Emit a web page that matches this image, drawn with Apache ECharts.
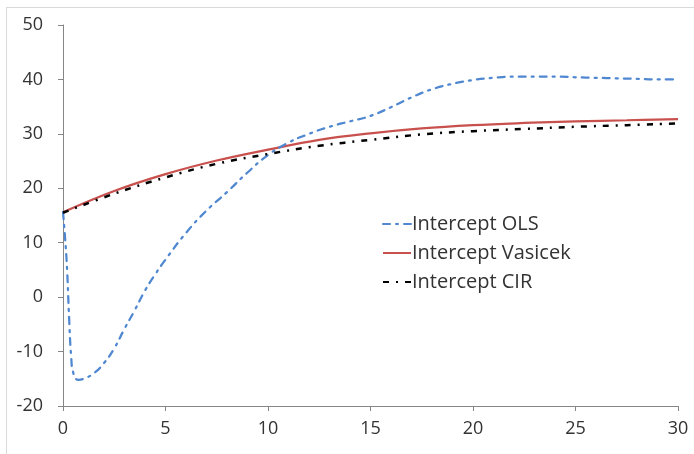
<!DOCTYPE html>
<html>
<head>
<meta charset="utf-8">
<script src="https://cdn.jsdelivr.net/npm/echarts@6/dist/echarts.min.js"></script>
<style>
  html, body { margin: 0; padding: 0; background: #ffffff; }
  #chart { position: absolute; left: 0; top: 0; width: 694px; height: 454px; }
  #frame { position: absolute; left: 6px; top: 7px; width: 700px; height: 460px;
           border: 1px solid #d9d9d9; pointer-events: none; box-sizing: border-box; }
</style>
</head>
<body>
<div id="chart"></div>
<div id="frame"></div>
<script>
// Maturity (years) and intercept estimates per model
const olsX = [0, 0.1, 0.2, 0.3, 0.4, 0.5, 0.75, 1, 1.5, 2, 2.5, 3, 3.5, 4, 4.5, 5, 6, 7, 8, 9, 10,
              11, 12, 13, 14, 15, 16, 17, 18, 19, 20, 21, 22, 23, 24, 25, 26, 27, 28, 29, 30];
const olsY = [15.6, 11, 5, -4, -11, -13.9, -15.2, -15.0, -14.0, -12.1, -9.4, -5.8, -2.4, 1.2, 4.2, 6.9,
              11.8, 15.9, 19.3, 22.9, 26.1, 28.4, 30.0, 31.3, 32.3, 33.3, 34.9, 36.7, 38.2, 39.2, 39.9,
              40.3, 40.5, 40.5, 40.5, 40.4, 40.3, 40.2, 40.1, 40.0, 40.0];

const modelX = [0, 2.5, 5, 7.5, 10, 12.5, 15, 17.5, 20, 22.5, 25, 27.5, 30];
const vasicekY = [15.6, 19.5, 22.6, 25.1, 27.1, 28.9, 30.1, 31.0, 31.6, 32.0, 32.3, 32.5, 32.7];
const cirY = [15.5, 19.0, 22.0, 24.5, 26.3, 27.8, 28.9, 29.9, 30.5, 30.9, 31.3, 31.6, 31.9];

const seriesNames = ['Intercept OLS', 'Intercept Vasicek', 'Intercept CIR'];

const pairs = (xs, ys) => xs.map((x, i) => [x, ys[i]]);

const FONT = 'Open Sans';
const TEXT = '#333333';
const AXIS = '#868686';

const chart = echarts.init(document.getElementById('chart'), null, { renderer: 'canvas' });

chart.setOption({
  animation: false,
  backgroundColor: '#ffffff',
  grid: { left: 63, right: 16, top: 25, bottom: 48, containLabel: false },
  legend: {
    orient: 'vertical',
    left: 377,
    top: 209,
    itemWidth: 28,
    itemHeight: 14,
    itemGap: 9,
    itemStyle: { opacity: 0 },
    textStyle: { fontFamily: FONT, fontSize: 20, lineHeight: 20, color: TEXT, padding: [0, 0, 0, -4] },
    data: seriesNames
  },
  xAxis: {
    type: 'value',
    min: 0, max: 30, interval: 5,
    axisLine: { show: true, onZero: false, lineStyle: { color: AXIS, width: 1 } },
    axisTick: { show: true, length: 5, lineStyle: { color: AXIS } },
    axisLabel: { margin: 14, fontFamily: FONT, fontSize: 18, color: TEXT },
    splitLine: { show: false }
  },
  yAxis: {
    type: 'value',
    min: -20, max: 50, interval: 10,
    axisLine: { show: true, onZero: false, lineStyle: { color: AXIS, width: 1 } },
    axisTick: { show: true, length: 5, lineStyle: { color: AXIS } },
    axisLabel: { margin: 20, fontFamily: FONT, fontSize: 18, color: TEXT },
    splitLine: { show: false }
  },
  series: [
    {
      name: seriesNames[0], type: 'line', symbol: 'none', smooth: 0.5,
      data: pairs(olsX, olsY),
      lineStyle: { color: '#4f87d0', width: 2.25, type: [7, 6, 2, 6], cap: 'round' },
      itemStyle: { color: '#4f87d0' }, z: 3
    },
    {
      name: seriesNames[1], type: 'line', symbol: 'none', smooth: 0.4,
      data: pairs(modelX, vasicekY),
      lineStyle: { color: '#c8504d', width: 2.25, type: 'solid' },
      itemStyle: { color: '#c8504d' }, z: 2
    },
    {
      name: seriesNames[2], type: 'line', symbol: 'none', smooth: 0.4,
      data: pairs(modelX, cirY),
      lineStyle: { color: '#000000', width: 2.5, type: [6, 7, 2, 7] },
      itemStyle: { color: '#000000' }, z: 4
    }
  ]
});
</script>
</body>
</html>
